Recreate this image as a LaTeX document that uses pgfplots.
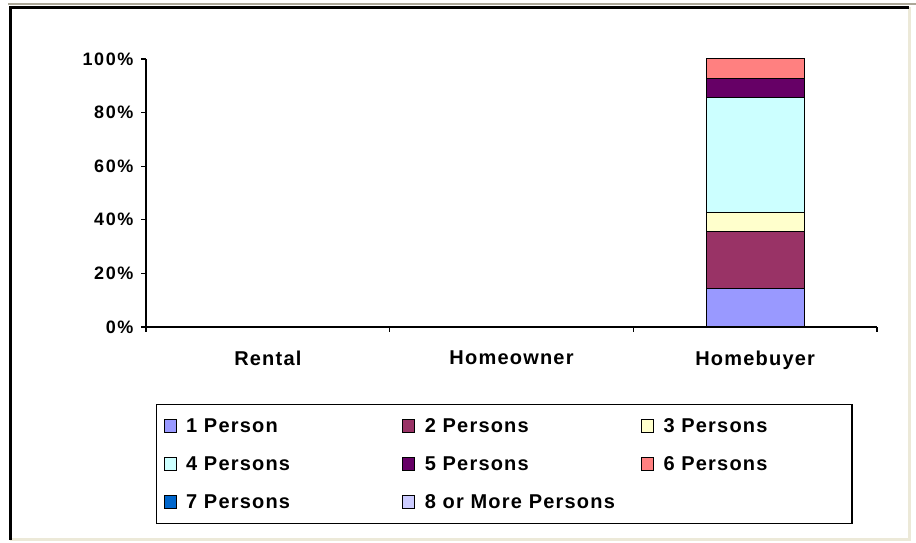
\documentclass[border=0pt]{standalone}
\usepackage{pgfplots}
\pgfplotsset{compat=1.18}
\usepackage{fontspec}
\setmainfont{Liberation Sans}
\newfontfamily\yfont{Liberation Sans}[LetterSpace=9]
\newfontfamily\xfont{Liberation Sans}[LetterSpace=6]
\newfontfamily\lfont{Liberation Sans}[LetterSpace=6]
\definecolor{cA}{HTML}{9999FF}
\definecolor{cB}{HTML}{993366}
\definecolor{cC}{HTML}{FFFFCC}
\definecolor{cD}{HTML}{CCFFFF}
\definecolor{cE}{HTML}{660066}
\definecolor{cF}{HTML}{FF8080}
\definecolor{cG}{HTML}{0066CC}
\definecolor{cH}{HTML}{CCCCFF}
\definecolor{frbeige}{HTML}{ECE9D8}
\definecolor{frgrey}{HTML}{ACA899}
\newcommand{\lt}[2][225.7pt]{\makebox[#1][l]{\lfont\bfseries\fontsize{20}{22}\selectfont\hspace{9.5pt}#2}}
\pgfplotsset{bs/.style={draw=black, line width=1pt,
  legend image code/.code={\draw[##1] (0pt,-6.5pt) rectangle (12pt,6.5pt); \path[draw=none,fill=none] (0pt,-19pt) -- (0pt,19pt);}}}
\begin{document}
\begin{tikzpicture}[x=1pt,y=1pt]
\useasboundingbox (0,0) rectangle (916,543);
\fill[white] (0,0) rectangle (916,543);
\draw[frgrey, line width=2pt] (8,538.5) -- (916,538.5);
\draw[frbeige, line width=3pt] (909.5,535.5) -- (909.5,3) -- (10,3);
\draw[black, line width=3pt] (10,3) -- (10,535.5) -- (909,535.5);
\begin{axis}[
  at={(146pt,216pt)}, anchor=south west,
  scale only axis, width=731pt, height=268pt,
  xmin=-0.5, xmax=2.5, ymin=0, ymax=100,
  ybar stacked, bar width=98pt,
  axis x line=bottom, axis y line=left,
  axis line style={-, line width=1.3pt},
  tick align=outside, major tick length=5pt,
  tick style={black, line width=1.3pt},
  ytick={0,20,40,60,80,100},
  yticklabels={0\%,20\%,40\%,60\%,80\%,100\%},
  yticklabel style={font=\yfont\bfseries\fontsize{18}{20}\selectfont, xshift=-4pt},
  xtick={-0.5,0.5,1.5,2.5}, xticklabels={},
  extra x ticks={0,1,2},
  extra x tick labels={Rental,Homeowner,Homebuyer},
  extra x tick style={major tick length=0pt, tick style={draw=none},
    tick label style={font=\xfont\bfseries\fontsize{20}{22}\selectfont, yshift=-20pt}},
  legend columns=3,
  legend style={at={(0.01368,-0.2873)}, anchor=north west, draw=black,
    line width=1.2pt, inner xsep=7pt, inner ysep=2.5pt,
    nodes={inner sep=0pt}, column sep=0pt, row sep=0pt},
]
\addplot[bs, fill=cA] coordinates {(2,14.29)};
\addplot[bs, fill=cB] coordinates {(2,21.43)};
\addplot[bs, fill=cC] coordinates {(2,7.14)};
\addplot[bs, fill=cD] coordinates {(2,42.86)};
\addplot[bs, fill=cE] coordinates {(2,7.14)};
\addplot[bs, fill=cF] coordinates {(2,7.14)};
\addplot[bs, fill=cG] coordinates {(2,0)};
\addplot[bs, fill=cH] coordinates {(2,0)};
\legend{\lt{1 Person},\lt{2 Persons},\lt[191pt]{3 Persons},\lt{4 Persons},\lt{5 Persons},\lt[191pt]{6 Persons},\lt{7 Persons},\lt{8 or More Persons}}
\end{axis}
\end{tikzpicture}
\end{document}
